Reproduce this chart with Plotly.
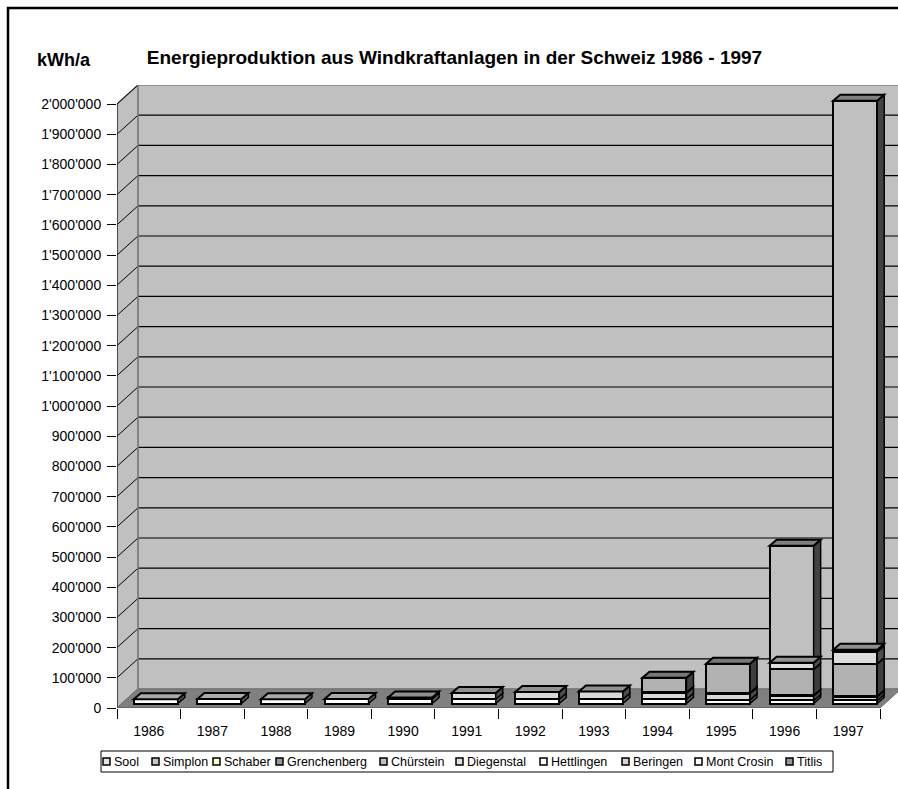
import plotly.graph_objects as go

# ---------------- data ----------------
years = ['1986', '1987', '1988', '1989', '1990', '1991', '1992', '1993', '1994', '1995', '1996', '1997']
series_names = ['Sool', 'Simplon', 'Schaber', 'Grenchenberg', 'Chürstein', 'Diegenstal',
                'Hettlingen', 'Beringen', 'Mont Crosin', 'Titlis']
sool = [14000, 15000, 14000, 15000, 15000, 14000, 14000, 14000, 14000, 12000, 10000, 10000]
simplon = [0, 0, 0, 0, 5000, 21000, 24000, 26000, 20000, 21000, 15000, 12000]
schaber = [0, 0, 0, 0, 0, 0, 0, 0, 3000, 3000, 2000, 3000]
grenchenberg = [0, 0, 0, 0, 0, 0, 0, 0, 48000, 96000, 86000, 106000]
chuerstein = [0, 0, 0, 0, 0, 0, 0, 0, 0, 0, 22000, 40000]
diegenstal = [0, 0, 0, 0, 0, 0, 0, 0, 0, 0, 0, 3000]
hettlingen = [0, 0, 0, 0, 0, 0, 0, 0, 0, 0, 0, 2000]
beringen = [0, 0, 0, 0, 0, 0, 0, 0, 0, 0, 0, 2000]
mont_crosin = [0, 0, 0, 0, 0, 0, 0, 0, 0, 0, 387000, 1818000]
titlis = [0, 0, 0, 0, 0, 0, 0, 0, 0, 0, 0, 0]
series_values = [sool, simplon, schaber, grenchenberg, chuerstein, diegenstal,
                 hettlingen, beringen, mont_crosin, titlis]
y_ticks = list(range(0, 2000001, 100000))

# ---------------- styles ----------------
bar_colors = ['#ffffff', '#d8d8d8', '#ffffcc', '#b2b2b2', '#dcdcdc', '#e0e0e0',
              '#ffffff', '#d4d4d4', '#c0c0c0', '#969696']
legend_colors = ['#e4e4e4', '#c8c8c8', '#ffffcc', '#999999', '#c0c0c0', '#e0e0e0',
                 '#ffffff', '#d4d4d4', '#ffffff', '#969696']
FONT = 'Liberation Sans, Arial, sans-serif'

W, H = 898, 789
PL, PR, PT, PB = 117, 898, 85, 708          # plot-area pixel bounds
FRONT_RIGHT = 880
YMAX_PX = 104                                # pixel of the 2'000'000 tick
ppx = (FRONT_RIGHT - PL) / len(years)
ppy = (PB - YMAX_PX) / 2000000.0
x_lo = -0.5
x_hi = x_lo + (PR - PL) / ppx
y_hi = (PB - PT) / ppy
wdx, wdy = 21 / ppx, 19 / ppy                # wall depth
bar_shift_x = 7 / ppx
bar_lift = 4.5 / ppy
bdx, bdy = 7 / ppx, 6 / ppy                  # bar depth
bar_w = 44 / ppx
bar_off = -bar_w / 2 + bar_shift_x


def shade(hexcol, f):
    r, g, b = (int(hexcol[i:i + 2], 16) for i in (1, 3, 5))
    return '#%02x%02x%02x' % (int(r * f), int(g * f), int(b * f))


def pxx(x):
    return (x - PL) / (PR - PL)


def pxy(y):
    return (PB - y) / (PB - PT)


fig = go.Figure()
for name, vals, col in zip(series_names, series_values, bar_colors):
    fig.add_trace(go.Bar(
        x=years, y=[v if v else None for v in vals], name=name,
        xaxis='x', yaxis='y2', width=bar_w, offset=bar_off,
        marker=dict(color=col, line=dict(color='black', width=2)),
        showlegend=False, hoverinfo='x+y+name'))

shapes = []
# ---- walls / floor (below traces) ----
xl0, xr0 = -0.5, len(years) - 0.5
shapes.append(dict(type='rect', xref='x', yref='y', x0=xl0 + wdx, x1=xr0 + wdx,
                   y0=wdy, y1=2000000 + wdy, fillcolor='#c0c0c0',
                   line=dict(color='#808080', width=1.5), layer='below'))
shapes.append(dict(type='path', xref='x', yref='y', layer='below',
                   path=f'M{xl0},0 L{xl0},2000000 L{xl0 + wdx},{2000000 + wdy} L{xl0 + wdx},{wdy} Z',
                   fillcolor='#c0c0c0', line=dict(color='#808080', width=1.5)))
shapes.append(dict(type='path', xref='x', yref='y', layer='below',
                   path=f'M{xl0},0 L{xr0},0 L{xr0 + wdx},{wdy} L{xl0 + wdx},{wdy} Z',
                   fillcolor='#808080', line=dict(color='#707070', width=1)))
for v in y_ticks[1:-1]:
    shapes.append(dict(type='line', xref='x', yref='y', layer='below',
                       x0=xl0 + wdx, x1=xr0 + wdx, y0=v + wdy, y1=v + wdy,
                       line=dict(color='black', width=1.2)))
for v in y_ticks[1:]:
    shapes.append(dict(type='line', xref='x', yref='y', layer='below',
                       x0=xl0, x1=xl0 + wdx, y0=v, y1=v + wdy,
                       line=dict(color='black', width=1)))
shapes.append(dict(type='line', xref='x', yref='y', layer='below',
                   x0=xl0 + wdx, x1=xl0 + wdx, y0=wdy, y1=2000000 + wdy,
                   line=dict(color='#808080', width=1.5)))
shapes.append(dict(type='line', xref='x', yref='y', layer='below',
                   x0=xl0, x1=xl0, y0=0, y1=2000000,
                   line=dict(color='#303030', width=1.5)))
shapes.append(dict(type='line', xref='x', yref='y', layer='below',
                   x0=xl0, x1=xr0, y0=0, y1=0,
                   line=dict(color='#606060', width=1.5)))

# ---- 3D faces of bars (above traces) ----
for i in range(len(years)):
    xl = i + bar_off
    xr = xl + bar_w
    segs = [(k, series_values[k][i]) for k in range(len(series_names)) if series_values[k][i] > 0]
    base = 0
    bounds = []
    for k, v in segs:
        bounds.append((k, base, base + v))
        base += v
    for j, (k, y0, y1) in enumerate(bounds):
        col = bar_colors[k]
        shapes.append(dict(type='path', xref='x', yref='y2', layer='above',
                           path=f'M{xr},{y0} L{xr + bdx},{y0 + bdy} L{xr + bdx},{y1 + bdy} L{xr},{y1} Z',
                           fillcolor=shade(col, 0.35), line=dict(color='black', width=1.5)))
    for j, (k, y0, y1) in enumerate(bounds):
        is_top = j == len(bounds) - 1
        below_tall = (j == len(bounds) - 2) and (bounds[-1][2] - bounds[-1][1] > 200000)
        if is_top or below_tall:
            col = bar_colors[bounds[-1][0]] if is_top else bar_colors[k]
            shapes.append(dict(type='path', xref='x', yref='y2', layer='above',
                               path=f'M{xl},{y1} L{xl + bdx},{y1 + bdy} L{xr + bdx},{y1 + bdy} L{xr},{y1} Z',
                               fillcolor=shade(col, 0.67), line=dict(color='black', width=2)))

# ---- outer frame ----
shapes.append(dict(type='rect', xref='paper', yref='paper', x0=pxx(8), x1=pxx(W + 10),
                   y0=pxy(H + 10), y1=pxy(8), line=dict(color='black', width=2.5),
                   fillcolor='rgba(0,0,0,0)', layer='above'))

# ---- manual legend ----
leg_left, leg_right, leg_top, leg_bot = 101, 833, 751, 772
shapes.append(dict(type='rect', xref='paper', yref='paper', x0=pxx(leg_left), x1=pxx(leg_right),
                   y0=pxy(leg_bot), y1=pxy(leg_top), line=dict(color='black', width=1),
                   fillcolor='white', layer='above'))
sw_x = [103, 152, 213, 276, 380, 456, 540, 622, 695, 786]
ycen = (leg_top + leg_bot) / 2
annotations = []
for sx, name, col in zip(sw_x, series_names, legend_colors):
    shapes.append(dict(type='rect', xref='paper', yref='paper', x0=pxx(sx), x1=pxx(sx + 7),
                       y0=pxy(ycen + 3.5), y1=pxy(ycen - 3.5), fillcolor=col,
                       line=dict(color='black', width=1.5), layer='above'))
    annotations.append(dict(xref='paper', yref='paper', x=pxx(sx + 8.5), y=pxy(ycen + 0.5),
                            xanchor='left', yanchor='middle', text=name, showarrow=False,
                            font=dict(family=FONT, size=12.5, color='black')))

annotations.append(dict(xref='paper', yref='paper', x=pxx(35), y=pxy(60), xanchor='left',
                        yanchor='middle', text='<b>kWh/a</b>', showarrow=False,
                        font=dict(family=FONT, size=18, color='black')))

fig.update_layout(
    width=W, height=H,
    margin=dict(l=PL, r=W - PR, t=PT, b=H - PB),
    paper_bgcolor='white', plot_bgcolor='white',
    barmode='stack', bargap=0,
    title=dict(text='<b>Energieproduktion aus Windkraftanlagen in der Schweiz 1986 - 1997</b>',
               x=454.5 / W, xanchor='center', xref='container',
               y=1 - 57 / H, yanchor='middle',
               font=dict(family=FONT, size=19, color='black')),
    font=dict(family=FONT, size=14, color='black'),
    xaxis=dict(type='category', categoryorder='array', categoryarray=years,
               range=[x_lo, x_hi], tickson='boundaries', ticks='outside', ticklen=10,
               tickcolor='black', tickwidth=1, showgrid=False, showline=False,
               zeroline=False, ticklabelstandoff=13,
               tickfont=dict(family=FONT, size=14, color='black')),
    yaxis=dict(range=[0, y_hi], tickvals=y_ticks,
               ticktext=[f'{v:,}'.replace(',', "'") for v in y_ticks],
               ticks='outside', ticklen=9, tickcolor='black', tickwidth=1,
               showgrid=False, showline=False, zeroline=False, ticklabelstandoff=3,
               tickfont=dict(family=FONT, size=14, color='black')),
    yaxis2=dict(overlaying='y', range=[-bar_lift, y_hi - bar_lift], visible=False,
                showgrid=False, zeroline=False),
    shapes=shapes,
    annotations=annotations,
    showlegend=False,
)

fig.write_html('out.html')
